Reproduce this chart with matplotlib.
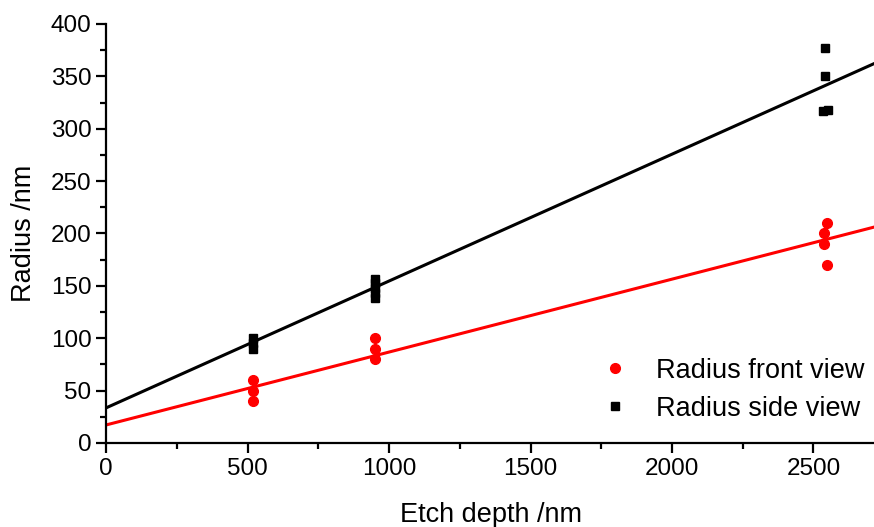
import numpy as np
import matplotlib.pyplot as plt
from matplotlib.ticker import MultipleLocator

plt.rcParams["font.family"] = ["Liberation Sans", "DejaVu Sans"]

# data
front_x = [520, 520, 520, 950, 950, 950, 2548, 2536, 2536, 2546]
front_y = [40, 50, 60, 80, 90, 100, 210, 200, 190, 170]
side_x = [520, 520, 520, 950, 950, 950, 950, 950, 2541, 2541, 2535, 2550]
side_y = [90, 95, 100, 138, 143, 148, 153, 157, 377, 350, 317, 318]

# linear fits (intercept, slope) as drawn in the reference
front_fit = (17.2, 0.0696)
side_fit = (33.5, 0.1211)

x_max = 2720
y_max = 400

fig = plt.figure(figsize=(8.74, 5.27), dpi=100)
ax = fig.add_axes([0.1213, 0.1594, 0.8787 + 0.002, 0.7951])

x_line = np.array([0, x_max])
ax.plot(x_line, side_fit[0] + side_fit[1] * x_line, color="black", linewidth=2.2, zorder=2)
ax.plot(x_line, front_fit[0] + front_fit[1] * x_line, color="#ff0000", linewidth=2.2, zorder=2)

ax.plot(front_x, front_y, "o", color="#ff0000", markersize=7, linestyle="none",
        label="Radius front view", zorder=3)
ax.plot(side_x, side_y, "s", color="black", markersize=6, linestyle="none",
        label="Radius side view", zorder=3)

ax.set_xlim(0, x_max)
ax.set_ylim(0, y_max)
ax.xaxis.set_major_locator(MultipleLocator(500))
ax.xaxis.set_minor_locator(MultipleLocator(250))
ax.yaxis.set_major_locator(MultipleLocator(50))
ax.yaxis.set_minor_locator(MultipleLocator(25))

ax.spines["top"].set_visible(False)
ax.spines["right"].set_visible(False)
ax.spines["left"].set_linewidth(1.6)
ax.spines["bottom"].set_linewidth(1.6)
ax.tick_params(which="major", direction="out", length=7.5, width=1.6, labelsize=17.5, pad=3)
ax.tick_params(which="minor", direction="out", length=4.5, width=1.6)

ax.set_xlabel("Etch depth /nm", fontsize=19.5, labelpad=16)
ax.set_ylabel("Radius /nm", fontsize=19.5, labelpad=10)

ax.legend(loc="lower right", bbox_to_anchor=(1.006, 0.012), frameon=False, fontsize=19.5,
          handlelength=1.0, handletextpad=1.0, labelspacing=0.45, borderaxespad=0.2)

fig.savefig("out.png", dpi=100)
